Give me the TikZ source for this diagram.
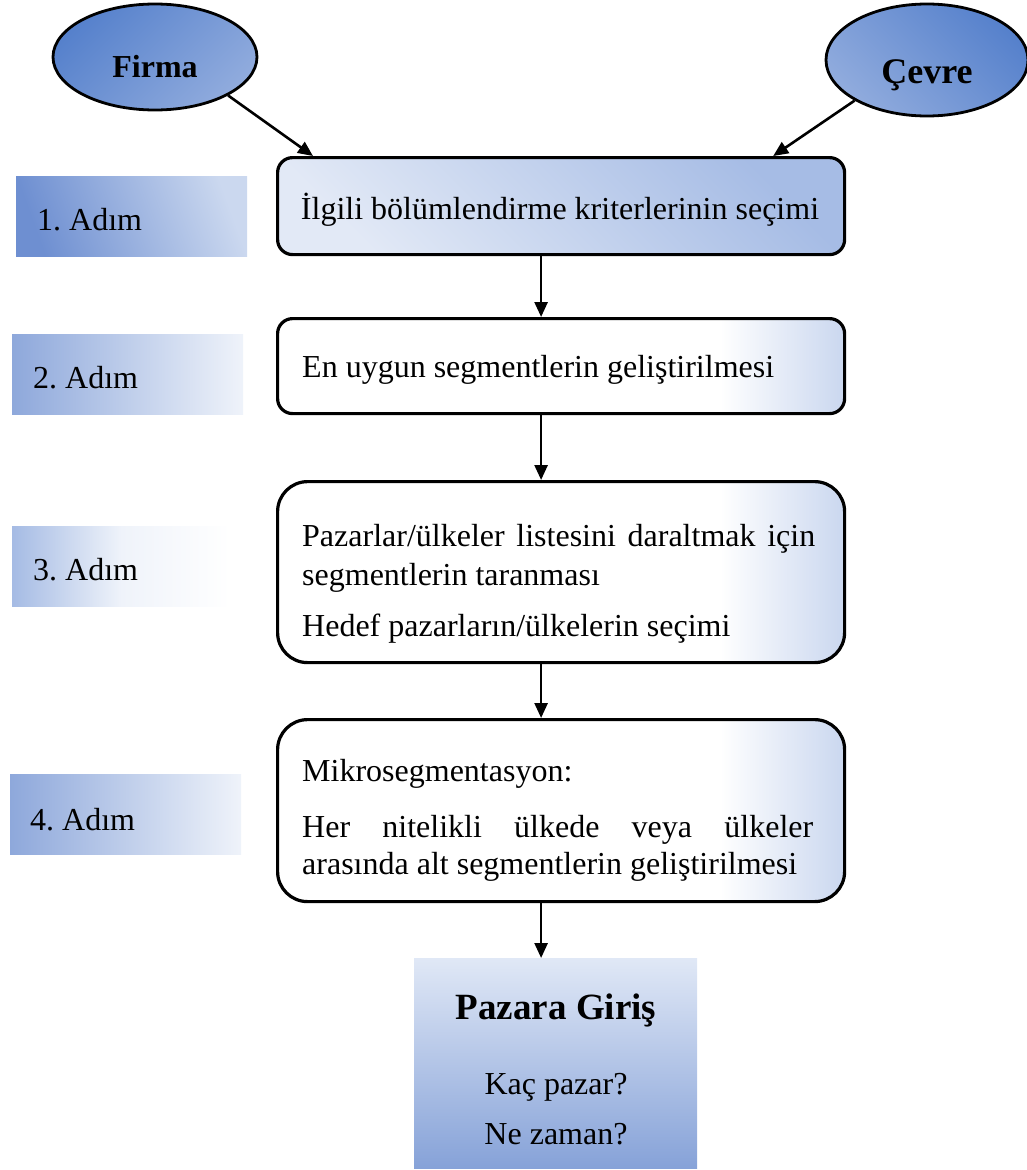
\documentclass[tikz,border=0pt]{standalone}
\usepackage{fontspec}
\setmainfont{Liberation Serif}
\frenchspacing
\usetikzlibrary{arrows.meta,shapes.geometric}
\definecolor{elldark}{HTML}{5681CC}
\definecolor{elllight}{HTML}{90ABDD}
\definecolor{bonedark}{HTML}{A6BCE5}
\definecolor{bonelight}{HTML}{E2E9F6}
\definecolor{boxtint}{HTML}{CAD7EF}
\definecolor{labdark}{HTML}{6E8FD1}
\definecolor{lablight}{HTML}{CBD8EF}
\definecolor{labmid}{HTML}{8EA8DB}
\definecolor{labfade}{HTML}{EFF3FA}
\definecolor{lab3}{HTML}{A5BBE4}
\definecolor{endtop}{HTML}{E0E8F6}
\definecolor{endbot}{HTML}{86A2D8}
\pgfdeclarehorizontalshading{whitetint}{100bp}{color(0bp)=(white); color(25bp)=(white); color(64bp)=(white); color(75bp)=(boxtint); color(100bp)=(boxtint)}
\begin{document}
\begin{tikzpicture}[x=1pt,y=-1pt,
  txt/.style={font=\fontsize{32}{38}\selectfont, inner sep=0pt, anchor=base west},
  ctxt/.style={font=\fontsize{32}{38}\selectfont, inner sep=0pt, anchor=base},
  arr/.style={line width=2.6pt, -{Triangle[length=15pt,width=13pt]}},
  stepbox/.style={draw, line width=3.2pt, anchor=north west, minimum width=567pt, inner sep=0pt},
  whitebox/.style={stepbox, shading=whitetint, shading angle=0},
  labbox/.style={anchor=north west, inner sep=0pt, minimum width=231pt, minimum height=80pt},
  oval/.style={ellipse, draw, line width=2.8pt, inner sep=0pt}
]
\useasboundingbox (0,0) rectangle (1027,1170);

% ellipses
\node[oval, minimum width=204pt, minimum height=106pt, top color=elldark, bottom color=elllight, shading angle=45] (firma) at (155,57) {};
\node[font=\fontsize{32}{36}\selectfont\bfseries, inner sep=0pt, anchor=base] (firmat) at (155,77) {Firma};
\node[oval, minimum width=202pt, minimum height=112pt, top color=elldark, bottom color=elllight, shading angle=-45] (cevre) at (927,60) {};
\node[font=\fontsize{36}{40}\selectfont\bfseries, inner sep=0pt, anchor=base] (cevret) at (927,83) {Çevre};

% step boxes
\node[stepbox, minimum height=97pt, rounded corners=15pt, top color=bonedark, bottom color=bonelight, shading angle=-45] (b1) at (276,156) {};
\node[ctxt] (b1t) at (560,219) {İlgili bölümlendirme kriterlerinin seçimi};

\node[whitebox, minimum height=95pt, rounded corners=15pt] (b2) at (276,317) {};
\node[txt] (b2t) at (302,377) {En uygun segmentlerin geliştirilmesi};

\node[whitebox, minimum height=181pt, rounded corners=30pt] (b3) at (276,480) {};
\node[txt] (b3a) at (302,546) {\makebox[513pt][s]{Pazarlar/ülkeler listesini daraltmak için}};
\node[txt] (b3b) at (302,585) {segmentlerin taranması};
\node[txt] (b3c) at (302,636) {Hedef pazarların/ülkelerin seçimi};

\node[whitebox, minimum height=182pt, rounded corners=30pt] (b4) at (276,718) {};
\node[txt] (b4a) at (302,781) {Mikrosegmentasyon:};
\node[txt] (b4b) at (302,837) {\makebox[511pt][s]{Her nitelikli ülkede veya ülkeler}};
\node[txt] (b4c) at (302,874) {arasında alt segmentlerin geliştirilmesi};

% final box
\node[anchor=north west, inner sep=0pt, minimum width=283pt, minimum height=210pt, top color=endtop, bottom color=endbot] (giris) at (414,958) {};
\node[font=\fontsize{37}{42}\selectfont\bfseries, inner sep=0pt, anchor=base] (girist) at (556,1019) {Pazara Giriş};
\node[ctxt] (kac) at (556,1094) {Kaç pazar?};
\node[ctxt] (ne) at (556,1144) {Ne zaman?};

% step labels
\node[labbox, top color=lablight, bottom color=labdark, shading angle=-70] (l1) at (16,176) {};
\node[txt] (l1t) at (37,230) {1. Adım};
\node[labbox, left color=labmid, right color=labfade] (l2) at (12,334) {};
\node[txt] (l2t) at (33,388) {2. Adım};
\node[labbox, minimum width=218pt, left color=lab3, right color=white, middle color=labfade] (l3) at (12,526) {};
\node[txt] (l3t) at (33,580) {3. Adım};
\node[labbox, left color=labmid, right color=labfade] (l4) at (10,774) {};
\node[txt] (l4t) at (30,830) {4. Adım};

% connectors
\draw[arr] (firma.south east) -- ([xshift=37pt]b1.north west);
\draw[arr] (cevre.south west) -- ([xshift=-73pt]b1.north east);
\draw[arr] ([xshift=-20pt]b1.south) -- ([xshift=-20pt]b2.north);
\draw[arr] ([xshift=-20pt]b2.south) -- ([xshift=-20pt]b3.north);
\draw[arr] ([xshift=-20pt]b3.south) -- ([xshift=-20pt]b4.north);
\draw[arr] ([xshift=-20pt]b4.south) -- ([xshift=-20pt]b4.south |- giris.north);
\end{tikzpicture}
\end{document}
